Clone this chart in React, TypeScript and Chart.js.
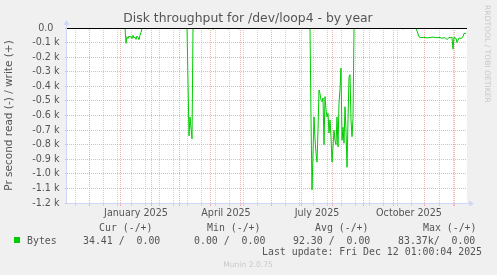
import React, { useEffect, useRef } from 'react';
import { Chart, registerables } from 'chart.js';

Chart.register(...registerables);

const W = 497;
const H = 275;

const chartTitle = 'Disk throughput for /dev/loop4 - by year';
const yAxisTitle = 'Pr second read (-) / write (+)';

// x axis in days since 2024-11-09 (400-day window)
const monthStartDays = [22, 53, 84, 112, 143, 173, 204, 234, 265, 296, 326, 357, 387];
const minorGridDays = [8, 36, 50, 64, 78, 92, 106, 120, 134, 148, 162, 176, 190, 218, 232, 246, 260, 274, 288, 302, 316, 330, 344, 372, 386];
const monthLabelDays = [69, 159, 250, 342];
const monthLabels = ['January 2025', 'April 2025', 'July 2025', 'October 2025'];

const yTickValues = [0, -100, -200, -300, -400, -500, -600, -700, -800, -900, -1000, -1100, -1200];
const yTickLabels = ['0.0  ', '-0.1 k', '-0.2 k', '-0.3 k', '-0.4 k', '-0.5 k', '-0.6 k', '-0.7 k', '-0.8 k', '-0.9 k', '-1.0 k', '-1.1 k', '-1.2 k'];

// read (plotted negative), bytes per second
const readDays = [
  0,
  21, 22, 23,
  35, 36, 37,
  44, 45, 46,
  58, 59, 60, 61, 62, 63, 64, 65, 66, 67, 68, 69, 70, 71, 72, 73, 74, 75, 76,
  79, 80, 81,
  120, 122, 123, 125, 126,
  141, 142, 143,
  145, 146, 147,
  160, 161, 162,
  171, 172, 173,
  243, 244, 245, 247, 248, 249, 250, 251, 252, 253, 254, 255, 256, 257, 258, 259, 260, 261, 262, 263, 264, 265, 266, 267, 268, 269, 270, 271, 272, 273, 274, 275, 276, 277, 278, 279, 280, 281, 282, 283, 284, 285, 286, 287,
  328, 329, 330,
  335, 336, 337,
  349, 352, 354, 357, 360, 363, 366, 369, 372, 375, 378, 380, 382, 384, 385, 386, 387, 389, 390, 392, 394, 396, 397, 399,
];
const readBytes = [
  0,
  0, -8, 0,
  0, -7, 0,
  0, -6, 0,
  0, -105, -60, -72, -55, -62, -58, -72, -50, -68, -62, -78, -55, -62, -80, -50, -30, -5, 0,
  0, -8, 0,
  0, -740, -610, -760, 0,
  0, -8, 0,
  0, -10, 0,
  0, -8, 0,
  0, -8, 0,
  0, -620, -1110, -610, -760, -860, -920, -700, -425, -450, -495, -505, -480, -800, -470, -560, -610, -585, -720, -630, -745, -920, -815, -700, -770, -800, -610, -815, -515, -420, -275, -770, -680, -790, -540, -700, -955, -630, -335, -320, -630, -745, -620, 0,
  0, -6, 0,
  0, -8, 0,
  0, -60, -66, -64, -68, -65, -62, -67, -64, -70, -66, -80, -64, -68, -62, -145, -66, -70, -100, -68, -72, -60, -37, -37,
];
const writeDays = [0, 399];
const writeBytes = [0, 0];

const seriesName = 'Bytes';
const legendHeaders = ['Cur (-/+)', 'Min (-/+)', 'Avg (-/+)', 'Max (-/+)'];
const legendValues = ['34.41 /  0.00', '0.00 /  0.00', '92.30 /  0.00', '83.37k/  0.00'];
const lastUpdate = 'Last update: Fri Dec 12 01:00:04 2025';
const footerText = 'Munin 2.0.75';
const watermark = 'RRDTOOL / TOBI OETIKER';

const SANS = '"DejaVu Sans", sans-serif';
const MONO = '"DejaVu Sans Mono", monospace';
const FONT_COLOR = '#555555';
const MGRID = 'rgba(232,150,150,0.7)';
const GRID = 'rgba(200,200,200,0.8)';
const AXIS = '#CFD6F8';
const GREEN = '#00CC00';

export default function App() {
  const ref = useRef<HTMLCanvasElement>(null);

  useEffect(() => {
    const canvas = ref.current;
    if (!canvas) return;
    const monthSet = new Set(monthStartDays);
    const minorSet = new Set(minorGridDays);
    const labelMap = new Map<number, string>(monthLabelDays.map((d, i) => [d, monthLabels[i]]));
    const yLabelMap = new Map<number, string>(yTickValues.map((v, i) => [v, yTickLabels[i]]));
    const xTickValues = Array.from(new Set([...monthStartDays, ...minorGridDays, ...monthLabelDays])).sort((a, b) => a - b);

    const gridColor = (ctx: any) => {
      const v = ctx.tick ? ctx.tick.value : null;
      if (v === null) return 'transparent';
      if (monthSet.has(v)) return MGRID;
      if (minorSet.has(v)) return GRID;
      return 'transparent';
    };

    const muninPlugin = {
      id: 'muninDecor',
      beforeDraw(chart: any) {
        const { ctx, chartArea: a } = chart;
        ctx.save();
        ctx.fillStyle = '#F0F0F0';
        ctx.fillRect(0, 0, chart.width, chart.height);
        ctx.fillStyle = '#FFFFFF';
        ctx.fillRect(a.left, a.top, a.right - a.left, a.bottom - a.top);
        ctx.restore();
      },
      afterDatasetsDraw(chart: any) {
        const { ctx, chartArea: a } = chart;
        const y0 = Math.floor(chart.scales.y.getPixelForValue(0)) + 0.5;
        ctx.save();
        ctx.strokeStyle = '#000000';
        ctx.lineWidth = 1;
        ctx.beginPath();
        ctx.moveTo(a.left, y0);
        ctx.lineTo(a.right, y0);
        ctx.stroke();
        ctx.restore();
      },
      afterDraw(chart: any) {
        const { ctx, chartArea: a } = chart;
        ctx.save();
        // axes
        ctx.strokeStyle = AXIS;
        ctx.fillStyle = AXIS;
        ctx.lineWidth = 1;
        const ax = a.left - 0.5;
        const ay = a.bottom + 0.5;
        ctx.beginPath();
        ctx.moveTo(ax, ay);
        ctx.lineTo(ax, a.top - 4);
        ctx.moveTo(ax, ay);
        ctx.lineTo(a.right + 3, ay);
        ctx.stroke();
        ctx.beginPath();
        ctx.moveTo(ax - 3, a.top - 3);
        ctx.lineTo(ax + 3, a.top - 3);
        ctx.lineTo(ax, a.top - 8);
        ctx.closePath();
        ctx.fill();
        ctx.beginPath();
        ctx.moveTo(a.right + 2, ay - 3);
        ctx.lineTo(a.right + 2, ay + 3);
        ctx.lineTo(a.right + 7, ay);
        ctx.closePath();
        ctx.fill();

        // title
        ctx.fillStyle = FONT_COLOR;
        ctx.font = `12.4px ${SANS}`;
        ctx.textAlign = 'center';
        ctx.textBaseline = 'alphabetic';
        ctx.fillText(chartTitle, 248, 22);

        // watermark
        ctx.save();
        ctx.translate(486.5, 5);
        ctx.rotate(Math.PI / 2);
        ctx.fillStyle = '#C8C8C8';
        ctx.font = `7.6px ${SANS}`;
        ctx.textAlign = 'left';
        ctx.textBaseline = 'middle';
        ctx.fillText(watermark, 0, 0);
        ctx.restore();

        // legend
        ctx.font = `9.9px ${MONO}`;
        ctx.fillStyle = FONT_COLOR;
        ctx.textAlign = 'left';
        ctx.textBaseline = 'alphabetic';
        const headerX = [99, 207, 315, 423];
        const valueX = [83, 194, 293, 398];
        legendHeaders.forEach((t, i) => ctx.fillText(t, headerX[i], 230.5));
        legendValues.forEach((t, i) => ctx.fillText(t, valueX[i], 243.5));
        ctx.fillText(seriesName, 27, 243.5);
        ctx.fillText(lastUpdate, 262, 255);
        ctx.fillStyle = GREEN;
        ctx.fillRect(14, 237, 6, 6);

        // footer
        ctx.fillStyle = '#C8C8C8';
        ctx.font = `7.6px ${SANS}`;
        ctx.textAlign = 'center';
        ctx.fillText(footerText, 248, 267);
        ctx.restore();
      },
    };

    const chart = new Chart(canvas, {
      type: 'line',
      data: {
        datasets: [
          {
            label: 'write',
            data: writeDays.map((d, i) => ({ x: d, y: writeBytes[i] })),
            borderColor: GREEN,
            borderWidth: 1,
            pointRadius: 0,
            order: 2,
          },
          {
            label: 'read',
            data: readDays.map((d, i) => ({ x: d, y: readBytes[i] })),
            borderColor: GREEN,
            borderWidth: 1,
            pointRadius: 0,
            order: 1,
          },
        ],
      },
      options: {
        animation: false,
        responsive: false,
        devicePixelRatio: 1,
        layout: { padding: { left: 0, top: 28, right: 30, bottom: 0 } },
        plugins: {
          legend: { display: false },
          title: { display: false },
          tooltip: { enabled: false },
        },
        elements: { point: { radius: 0 }, line: { tension: 0 } },
        scales: {
          x: {
            type: 'linear',
            min: 0,
            max: 400,
            afterBuildTicks: (s: any) => {
              s.ticks = xTickValues.map((v) => ({ value: v }));
            },
            afterFit: (s: any) => {
              s.height = 72;
            },
            ticks: {
              autoSkip: false,
              maxRotation: 0,
              minRotation: 0,
              padding: 2,
              color: FONT_COLOR,
              font: { family: SANS, size: 9.6 },
              callback: (v: any) => labelMap.get(Number(v)) ?? '',
            },
            grid: {
              color: gridColor,
              tickColor: gridColor,
              tickLength: 3,
              lineWidth: 1,
            },
            border: { display: false, dash: [1, 1] },
          },
          y: {
            type: 'linear',
            min: -1200,
            max: 0,
            afterBuildTicks: (s: any) => {
              s.ticks = yTickValues.map((v) => ({ value: v }));
            },
            afterFit: (s: any) => {
              s.width = 67;
            },
            ticks: {
              autoSkip: false,
              padding: 5.5,
              color: FONT_COLOR,
              font: { family: SANS, size: 9.6 },
              callback: (v: any) => yLabelMap.get(Number(v)) ?? '',
            },
            grid: { color: MGRID, tickColor: MGRID, tickLength: 2, lineWidth: 1 },
            border: { display: false, dash: [1, 1] },
            title: {
              display: true,
              text: yAxisTitle,
              color: FONT_COLOR,
              font: { family: SANS, size: 10.5 },
              padding: { top: 3, bottom: 0 },
            },
          },
        },
      },
      plugins: [muninPlugin],
    } as any);

    return () => chart.destroy();
  }, []);

  return (
    <div style={{ position: 'fixed', left: 0, top: 0, width: W, height: H, background: '#F0F0F0' }}>
      <canvas ref={ref} width={W} height={H} style={{ display: 'block', width: W, height: H }} />
    </div>
  );
}
